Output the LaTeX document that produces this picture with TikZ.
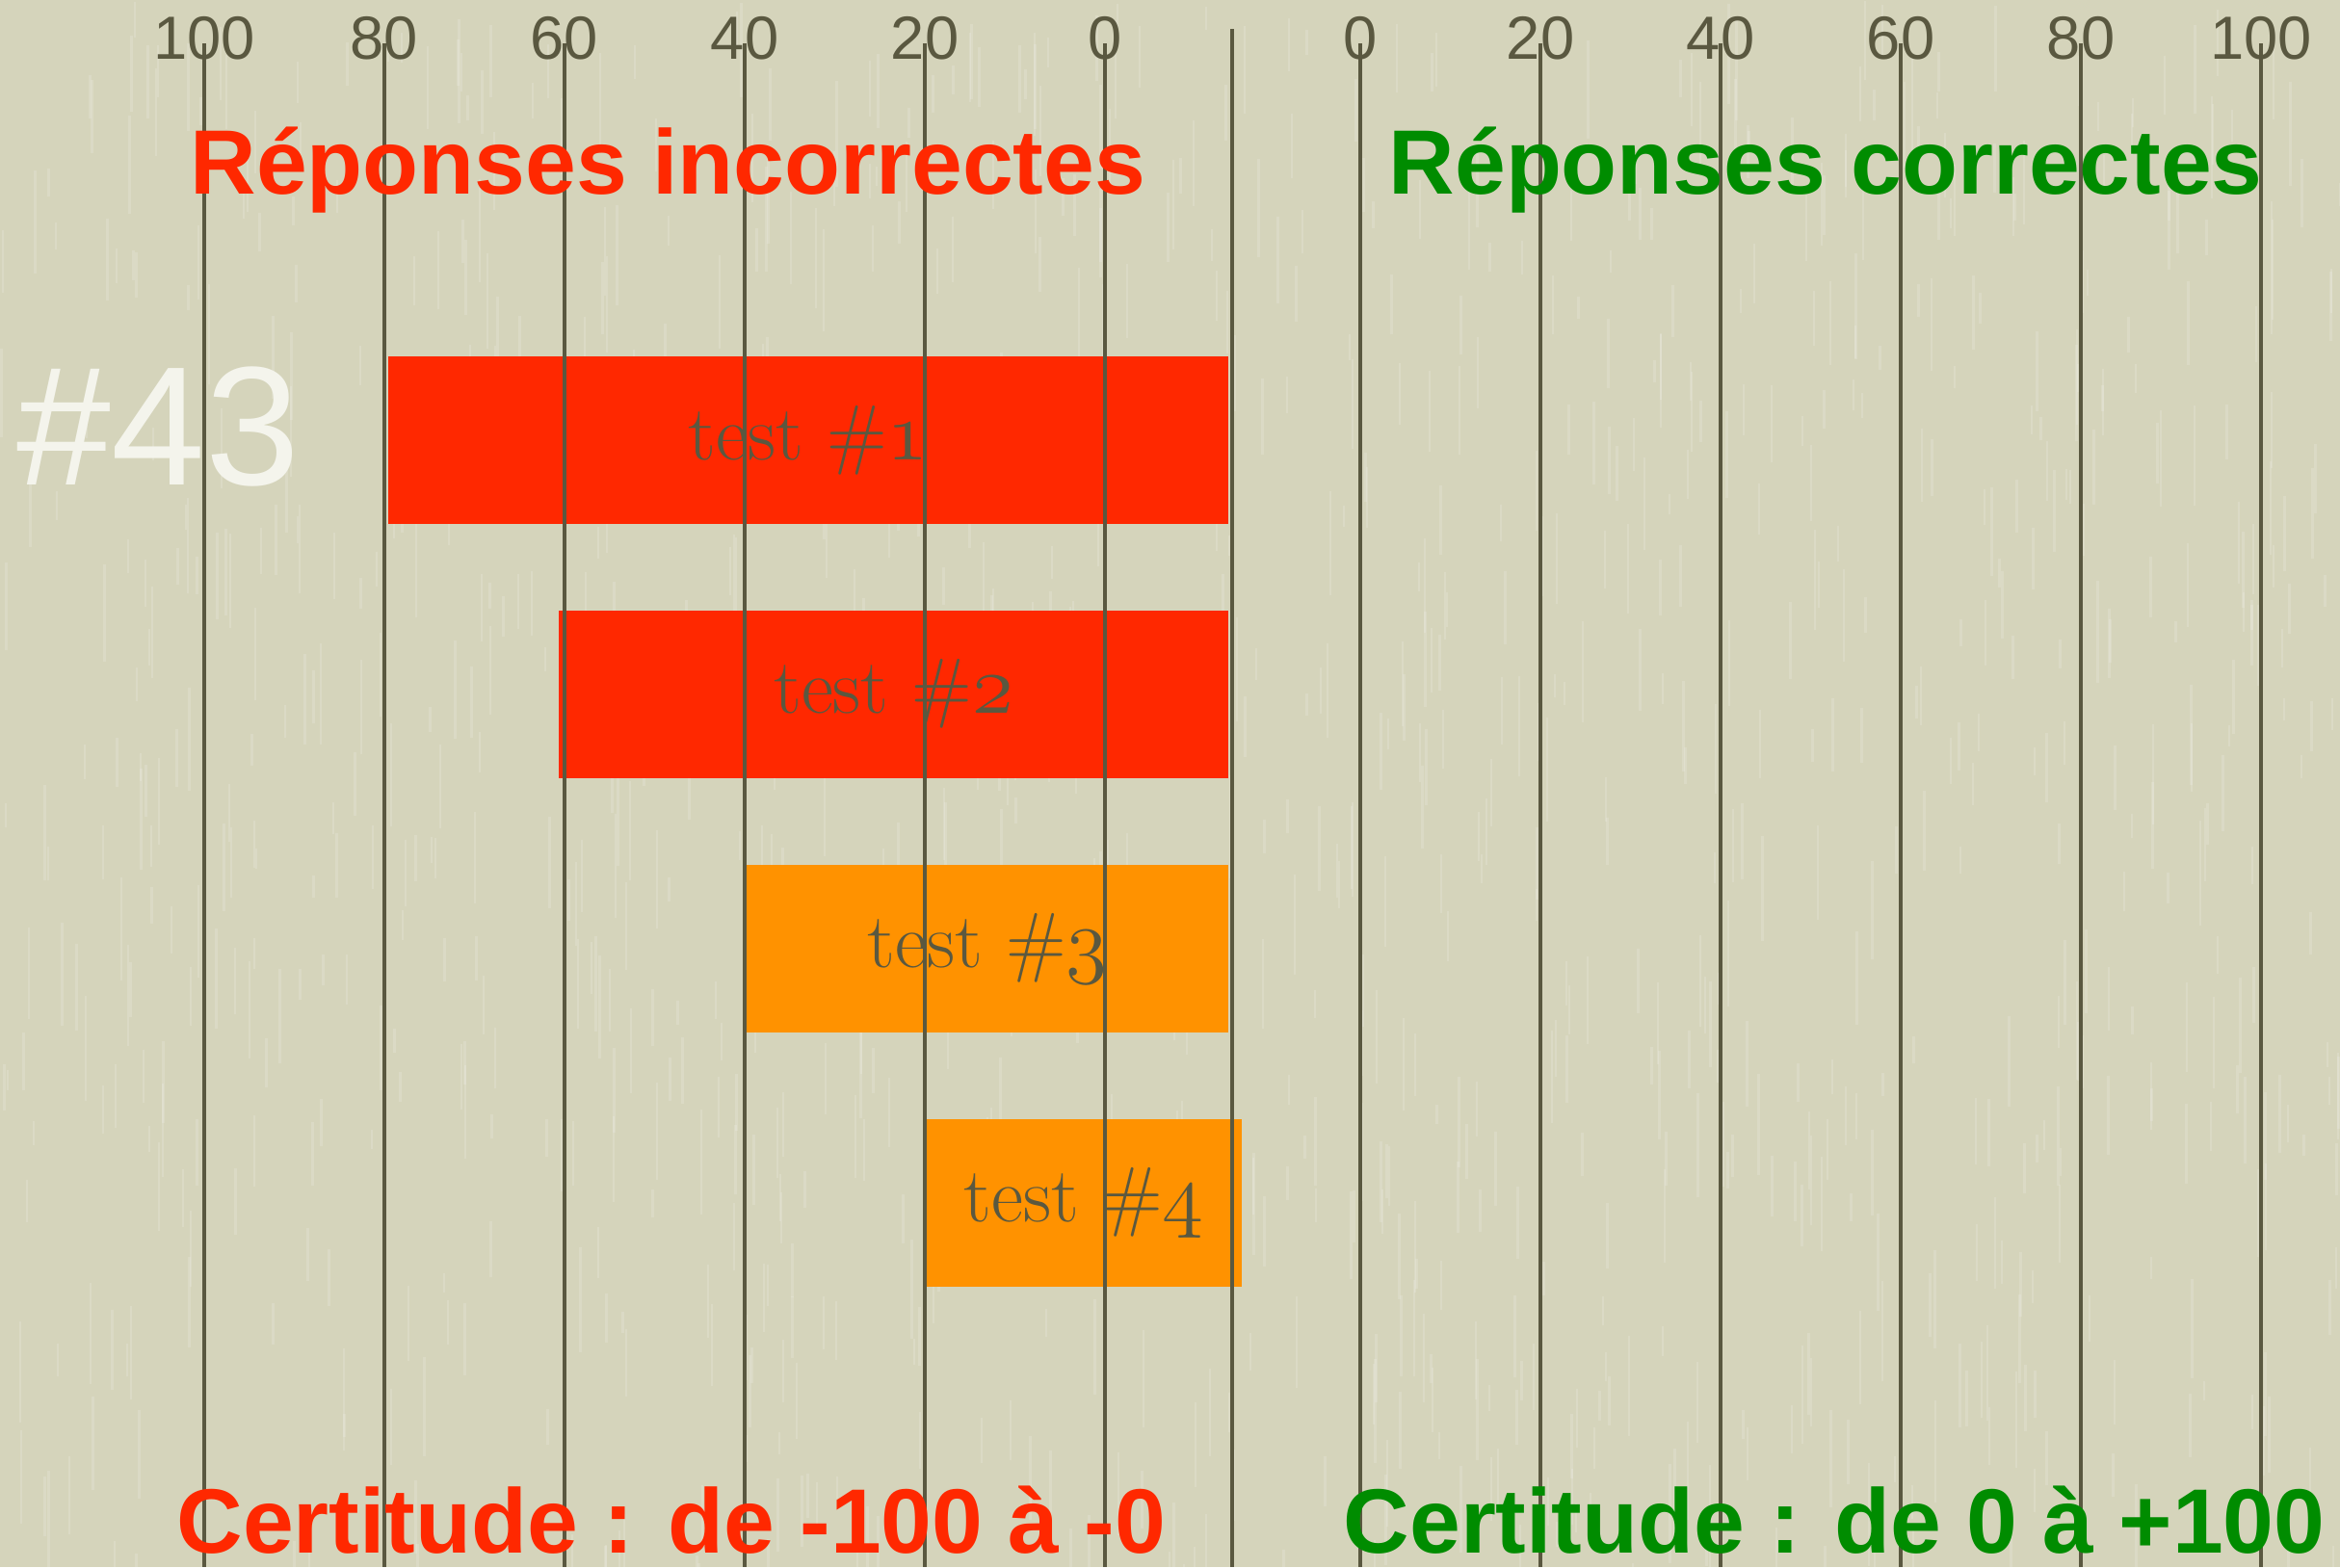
\documentclass[tikz,border=0pt]{standalone}
\usepackage{fontspec}
\setsansfont{Liberation Sans}
\usetikzlibrary{positioning}
\definecolor{paper}{RGB}{213,212,187}
\definecolor{ink}{RGB}{90,88,64}
\definecolor{wrongred}{RGB}{255,40,0}
\definecolor{rightgreen}{RGB}{0,140,0}
\definecolor{doubtorange}{RGB}{255,146,0}
\newcommand\oldnum[1]{{\usefont{OML}{cmm}{m}{it}#1}}
\tikzset{
  rule/.style={
    ink, line width=0.9pt
  },
  streak/.style={
    white, opacity=0.16, line width=0.7pt
  },
  scalenum/.style={
    anchor=base, inner sep=0pt, text=ink,
    font=\sffamily\fontsize{18}{20}\selectfont
  },
  heading/.style={
    anchor=base west, inner sep=0pt,
    font=\sffamily\bfseries\fontsize{27}{32}\selectfont
  },
  bar/.style={
    rectangle, anchor=east, inner sep=0pt,
    minimum height=1.74cm, text=ink,
    font=\fontsize{23}{27}\selectfont
  },
  redbar/.style={
    bar, fill=wrongred
  },
  orangebar/.style={
    bar, fill=doubtorange
  }
}

\begin{document}
\begin{tikzpicture}
  \fill[paper] (0,0) rectangle (24.29,-16.27);
  \useasboundingbox (0,0) rectangle (24.29,-16.27);
  % paper grain
  \pgfmathsetseed{43}
  \foreach \k in {1,...,1100} {
    \pgfmathsetmacro\sx{rnd*24.29}
    \pgfmathsetmacro\sy{-rnd*16.27}
    \pgfmathsetmacro\sl{0.2+rnd*0.9}
    \draw[streak] (\sx,\sy) -- ++(0,-\sl);
  }

  \node[anchor=base west, inner sep=0pt, text={rgb,255:red,244;green,244;blue,236},
    font=\sffamily\fontsize{50}{54}\selectfont] (case-num) at (0.17,-5.03) {\#43};

  % bars, right edge on the middle rule
  \node[redbar, minimum width=8.72cm] (bar-1) at (12.76,-4.57) {test \#\oldnum{1}};
  \node[redbar, minimum width=6.95cm] (bar-2) at (12.76,-7.205) {test \#\oldnum{2}};
  \node[orangebar, minimum width=5.00cm] (bar-3) at (12.76,-9.85) {test \#\oldnum{3}};
  \node[orangebar, minimum width=3.28cm] (bar-4) at (12.90,-12.49) {test \#\oldnum{4}};

  % scales
  \foreach \v [count=\i from 0] in {100,80,60,40,20,0} {
    \draw[rule] (2.12+1.87*\i,-0.45) -- (2.12+1.87*\i,-16.27);
    \node[scalenum] (neg-\v) at (2.12+1.87*\i,-0.61) {\v};
  }
  \foreach \v [count=\i from 0] in {0,20,40,60,80,100} {
    \draw[rule] (14.12+1.87*\i,-0.45) -- (14.12+1.87*\i,-16.27);
    \node[scalenum] (pos-\v) at (14.12+1.87*\i,-0.61) {\v};
  }
  \draw[rule] (12.79,-0.30) -- (12.79,-16.27);

  \node[heading, text=wrongred] (wrong-title) at (1.97,-2.01) {Réponses incorrectes};
  \node[heading, text=rightgreen] (right-title) at (14.41,-2.01) {Réponses correctes};
  \node[heading, text=wrongred] (wrong-range) at (1.83,-16.12) {Certitude : de -100 à -0};
  \node[heading, text=rightgreen] (right-range) at (13.94,-16.12) {Certitude : de 0 à +100};
\end{tikzpicture}
\end{document}
